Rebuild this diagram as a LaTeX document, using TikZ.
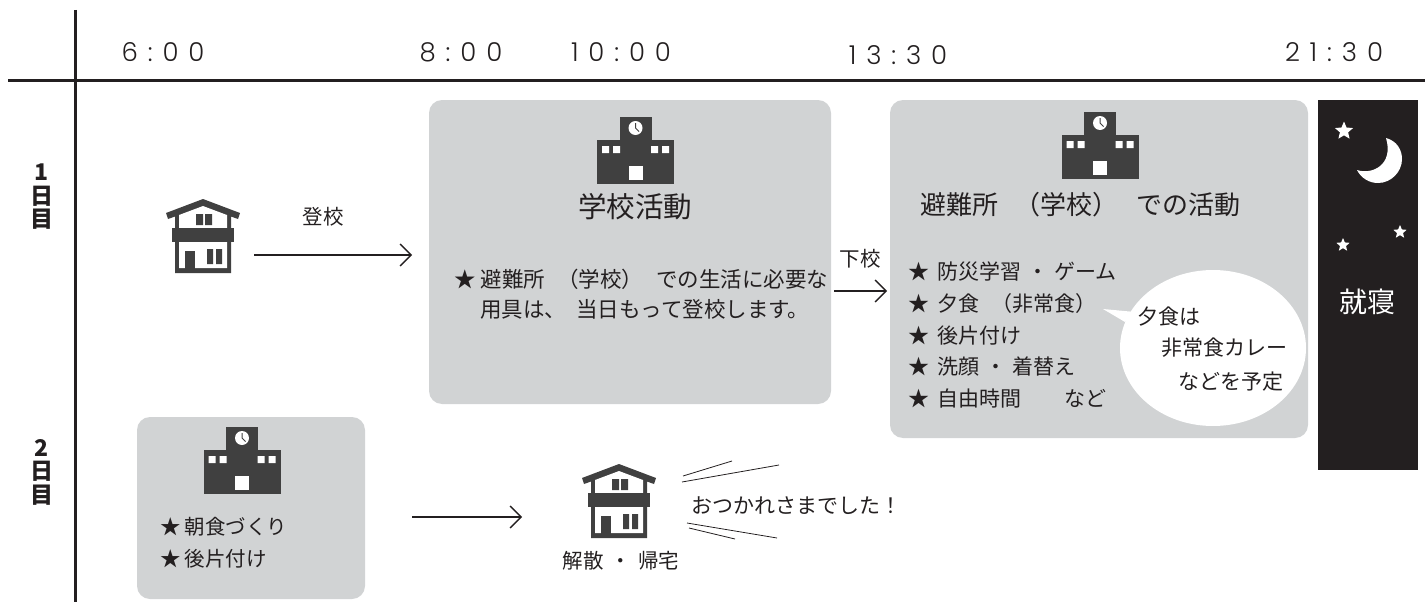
\documentclass[tikz,border=0pt]{standalone}
\usepackage{fontspec}
\setmainfont{Noto Sans CJK JP}
\newfontfamily\digits[LetterSpace=38,UprightFont={* Light}]{Poppins}
\usetikzlibrary{arrows.meta,shapes.geometric}
\definecolor{ink}{HTML}{231F20}
\definecolor{dark}{HTML}{404040}
\definecolor{panel}{HTML}{D1D3D4}
\newcommand{\bul}{★\hspace{8pt}}
\newcommand{\gp}[1]{\hspace{#1pt}}
\tikzset{
  x=1pt,y=-1pt,
  panelbox/.style={fill=panel,draw=none,rounded corners=13pt},
  rule/.style={draw=ink,line width=2.4pt},
  flow/.style={draw=ink,line width=1.3pt,-{Straight Barb[length=11pt,width=22pt,line width=1.3pt]}},
  hair/.style={draw=ink,line width=0.8pt},
  label/.style={font=\fontsize{21}{30}\selectfont,text=ink,inner sep=0pt,anchor=west,align=left},
  small/.style={font=\fontsize{20.5}{26}\selectfont,text=ink,inner sep=0pt},
  title/.style={font=\fontsize{26}{26}\selectfont,text=ink,inner sep=0pt},
  daylabel/.style={font=\bfseries\fontsize{23}{23.5}\selectfont,align=center,inner sep=0pt,text=ink},
  timelabel/.style={font=\digits\fontsize{26}{26}\selectfont,text=ink,inner sep=0pt},
  starshape/.style={star,star points=5,star point ratio=2.2,fill=white,draw=none,inner sep=0pt},
  house/.pic={
    \fill[dark] (0,0)--(37,14)--(35,20)--(28,17.5)--(28,74)--(-28,74)--(-28,17.5)--(-35,20)--(-37,14)--cycle;
    \fill[white] (0,7)--(24,16)--(24,69)--(-24,69)--(-24,16)--cycle;
    \fill[dark] (-31,29) rectangle (31,43);
    \fill[dark] (-7,15) rectangle (0,26) (2,15) rectangle (9,26);
    \fill[dark] (4,50) rectangle (10,65) (13,50) rectangle (19,65);
    \fill[dark] (-18,52) rectangle (-8,72);
  },
  school/.pic={
    \fill[dark] (-16,0) rectangle (16,23);
    \fill[dark] (-38.5,23) rectangle (38.5,67);
    \fill[white] (0,11) circle[radius=7];
    \draw[dark,line width=1pt] (0,6)--(0,11)--(3.5,14.5);
    \fill[white] (-33.5,29) rectangle (-26.5,36) (-22.5,29) rectangle (-15.5,36)
                 (15.5,29) rectangle (22.5,36) (26.5,29) rectangle (33.5,36);
    \fill[white] (-7,49) rectangle (7,63);
  }
}
\begin{document}
\begin{tikzpicture}
\useasboundingbox (0,0) rectangle (1425,602);
% frame rules
\coordinate (vt) at (75.5,10);
\coordinate (vb) at (75.5,602);
\coordinate (hl) at (8,80.5);
\coordinate (hr) at (1425,80.5);
\draw[rule] (vt)--(vb);
\draw[rule] (hl)--(hr);
% times
\node[timelabel] (t1) at (163,52) {6:00};
\node[timelabel] (t2) at (461,52) {8:00};
\node[timelabel] (t3) at (621,52) {10:00};
\node[timelabel] (t4) at (898,55) {13:30};
\node[timelabel] (t5) at (1334,52) {21:30};
% day labels
\node[daylabel] (d1) at (42,197) {1\\日\\目};
\node[daylabel] (d2) at (42,472) {2\\日\\目};
% panels
\path[panelbox] (429,100) rectangle (831,404);
\path[panelbox] (890,100) rectangle (1308,438);
\path[panelbox] (137,417) rectangle (365,599);
\fill[ink] (1318,100) rectangle (1418,470);
% icons
\pic at (203,199) {house};
\pic at (619,464) {house};
\pic at (635.5,117) {school};
\pic at (1100,112) {school};
\pic at (242,427) {school};
% night
\fill[white] (1386,138) .. controls (1397,141) and (1402,150) .. (1402,159)
  .. controls (1402,172) and (1391,183) .. (1378,183)
  .. controls (1369,183) and (1361,178) .. (1357,170)
  .. controls (1372,175) and (1394,165) .. (1386,138) -- cycle;
\node[starshape,minimum size=19pt] (s1) at (1344,131) {};
\node[starshape,minimum size=14pt] (s2) at (1400,232) {};
\node[starshape,minimum size=14pt] (s3) at (1343,245) {};
\node[font=\fontsize{28}{28}\selectfont,text=white,inner sep=0pt] (sleep) at (1367,302) {就寝};
% bubble
\fill[white] (1213,348) ellipse[x radius=93,y radius=78];
\fill[white] (1103,309)--(1135,312)--(1125,322)--cycle;
% text
\node[small] (toko) at (323,217) {登校};
\node[font=\fontsize{28.5}{28.5}\selectfont,text=ink,inner sep=0pt] (act1) at (635,207) {学校活動};
\node[title,anchor=west] (act2) at (920,205) {避難所\gp{16}（学校）\gp{18}での活動};
\node[label,font=\fontsize{21.5}{30}\selectfont] (n1) at (454,294) {★\gp{5}避難所\gp{12}（学校）\gp{13}での生活に必要な\\\hspace*{26pt}用具は、\gp{10}当日もって登校します。};
\node[small] (geko) at (860,259) {下校};
\node[label,font=\fontsize{21}{31.7}\selectfont] (n2) at (908,335) {\bul 防災学習\gp{6}・\gp{6}ゲーム\\\bul 夕食\gp{12}（非常食）\\\bul 後片付け\\\bul 洗顔\gp{6}・\gp{6}着替え\\\bul 自由時間\gp{43}など};
\node[label] (b1) at (1137,317) {夕食は};
\node[label] (b2) at (1161,348) {非常食カレー};
\node[label] (b3) at (1178,382) {などを予定};
\node[label,font=\fontsize{20.5}{32}\selectfont] (n3) at (160,543) {★\gp{4}朝食づくり\\★\gp{4}後片付け};
\node[small] (home) at (621,561) {解散\gp{7}・\gp{7}帰宅};
\node[label] (otsu) at (691,506) {おつかれさまでした\symbol{"FF01}};
% arrows
\coordinate (a1) at (254,255); \coordinate (a2) at (412,255);
\coordinate (a3) at (834,291); \coordinate (a4) at (887,291);
\coordinate (a5) at (412,517); \coordinate (a6) at (522,517);
\draw[flow] (a1)--(a2);
\draw[flow] (a3)--(a4);
\draw[flow] (a5)--(a6);
% accents
\coordinate (l1) at (683,476); \coordinate (l2) at (732,461);
\coordinate (l3) at (682,482); \coordinate (l4) at (779,465);
\coordinate (l5) at (687,523); \coordinate (l6) at (777,538);
\coordinate (l7) at (689,528); \coordinate (l8) at (735,539);
\draw[hair] (l1)--(l2); \draw[hair] (l3)--(l4); \draw[hair] (l5)--(l6); \draw[hair] (l7)--(l8);
\end{tikzpicture}
\end{document}
